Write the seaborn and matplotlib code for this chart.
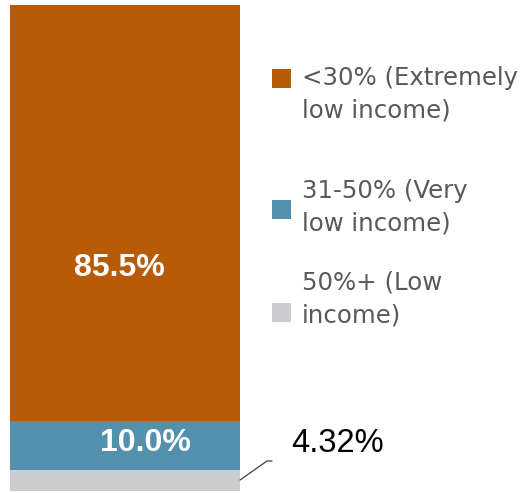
import matplotlib
matplotlib.use("Agg")
import matplotlib.pyplot as plt
import seaborn as sns
import numpy as np
import pandas as pd
from matplotlib.patches import Rectangle
from matplotlib.lines import Line2D

categories = ["<30% (Extremely\nlow income)", "31-50% (Very\nlow income)", "50%+ (Low\nincome)"]
values = [85.5, 10.0, 4.32]
value_labels = ["85.5%", "10.0%", "4.32%"]
colors = ["#B85B09", "#5290AE", "#CDCCD1"]

W, H = 522, 493
fig = plt.figure(figsize=(W / 100, H / 100), dpi=100)
sns.set_style("white")

def fx(px):
    return px / W

def fy(py):
    return 1 - py / H

ax = fig.add_axes([fx(10), fy(491), fx(240) - fx(10), fy(5) - fy(491)])

# stacked bar: bottom segment is last category
cum = np.cumsum(values[::-1])[::-1]  # orange top, blue top, gray top
for c, v in zip(colors, cum):
    df = pd.DataFrame({"x": ["all"], "y": [v]})
    sns.barplot(data=df, x="x", y="y", color=c, width=1.0, ax=ax,
                saturation=1, linewidth=0, edgecolor="none")
ax.set_xlim(-0.5, 0.5)
ax.set_ylim(0, cum[0])
ax.axis("off")

bold_font = ["Liberation Sans", "DejaVu Sans"]
fig.text(fx(119), fy(268), value_labels[0], color="white", fontsize=23,
         fontweight="bold", family=bold_font, ha="center", va="center")
fig.text(fx(145), fy(443), value_labels[1], color="white", fontsize=23,
         fontweight="bold", family=bold_font, ha="center", va="center")
fig.text(fx(291), fy(443), value_labels[2], color="black", fontsize=23.5,
         family=["Liberation Sans", "DejaVu Sans"], ha="left", va="center")

# leader line for small segment
fig.add_artist(Line2D([fx(240), fx(267), fx(272)], [fy(480), fy(461), fy(461)],
                      color="#404040", lw=0.9))

# legend
sq = 19
legend_text_y = [94, 207, 299]
legend_sq_y = [78, 209, 312]
for cat, c, ty, sy in zip(categories, colors, legend_text_y, legend_sq_y):
    fig.add_artist(Rectangle((fx(272), fy(sy + sq / 2)), sq / W, sq / H,
                             facecolor=c, edgecolor="none"))
    fig.text(fx(302), fy(ty), cat, color="#595959", fontsize=17.6,
             family=["DejaVu Sans"], ha="left", va="center", linespacing=1.45)

fig.savefig("out.png", dpi=100)
